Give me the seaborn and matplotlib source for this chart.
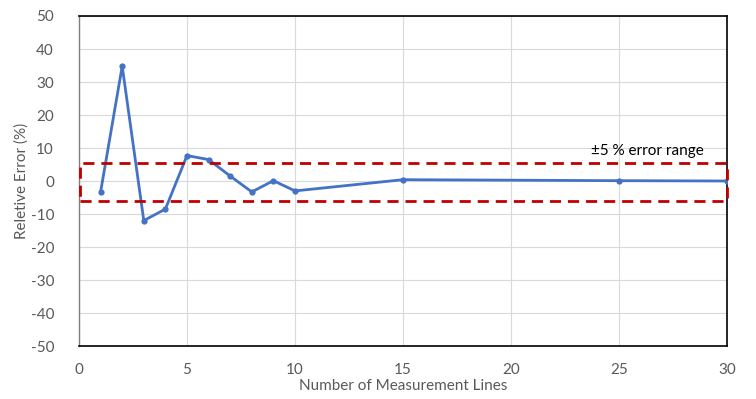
import numpy as np
import pandas as pd
import matplotlib
matplotlib.use("Agg")
import matplotlib.pyplot as plt
from matplotlib.patches import Rectangle
import seaborn as sns

# data
lines = [1, 2, 3, 4, 5, 6, 7, 8, 9, 10, 15, 25, 30]
rel_error = [-3.3, 34.8, -12.0, -8.5, 7.7, 6.5, 1.5, -3.3, 0.1, -3.0, 0.4, 0.1, 0.0]
band_low, band_high = -6.0, 5.5

df = pd.DataFrame({"lines": lines, "err": rel_error})

sns.set_style("white")
plt.rcParams['font.family'] = ['Lato', 'DejaVu Sans']
plt.rcParams['axes.unicode_minus'] = False

fig = plt.figure(figsize=(7.56, 3.99), dpi=100)
ax = fig.add_axes([0.1045, 0.1328, 0.8571, 0.8271])

sns.lineplot(data=df, x="lines", y="err", ax=ax, color="#4472C4",
             linewidth=2.0, marker="o", markersize=4.5, markeredgewidth=0,
             zorder=3)

# ±5 % band drawn as a dashed box
ax.add_patch(Rectangle((0.05, band_low), 30 - 0.05, band_high - band_low,
                       fill=False, edgecolor="#C00000", linestyle=(0, (4, 2.5)),
                       linewidth=2.0, zorder=4, clip_on=False))
ax.text(26.3, 9.0, "±5 % error range", ha="center", va="center",
        fontsize=11, color="black")

ax.set_xlim(0, 30)
ax.set_ylim(-50, 50)
ax.set_xticks(range(0, 31, 5))
ax.set_yticks(range(-50, 51, 10))
ax.grid(True, color="#D9D9D9", linewidth=0.8)
ax.set_axisbelow(True)

for side in ["top", "right", "bottom"]:
    ax.spines[side].set_color("black")
    ax.spines[side].set_linewidth(1.2)
ax.spines["left"].set_color("#7F7F7F")
ax.spines["left"].set_linewidth(1.0)

ax.tick_params(axis="y", length=0, labelsize=11, labelcolor="#595959", pad=18)
ax.tick_params(axis="x", length=0, labelsize=11, labelcolor="#595959", pad=12)
ax.set_xlabel("Number of Measurement Lines", fontsize=11, color="#595959", labelpad=2)
ax.set_ylabel("Reletive Error (%)", fontsize=11, color="#595959", labelpad=1)

fig.savefig("out.png", dpi=100)
